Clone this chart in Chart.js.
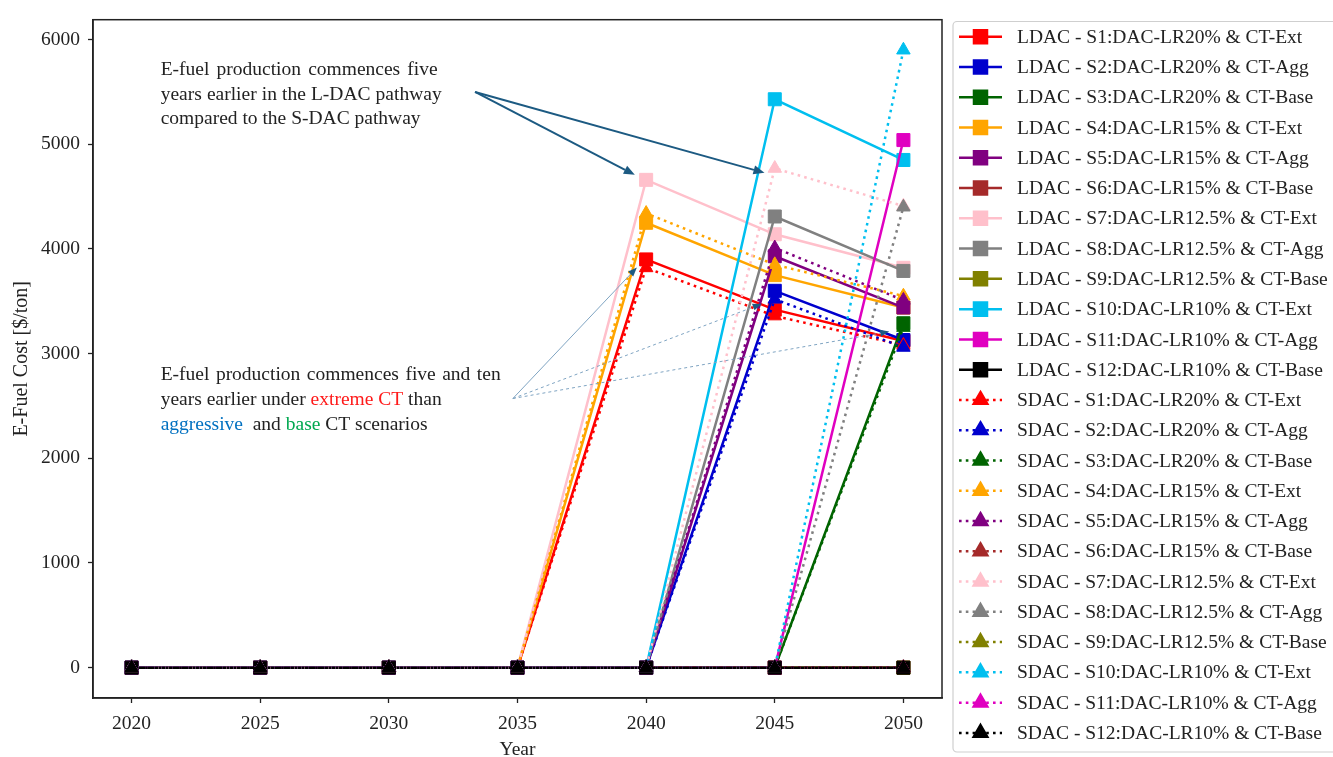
<!DOCTYPE html>
<html>
<head>
<meta charset="utf-8">
<script src="https://cdn.jsdelivr.net/npm/chart.js@4.4.1/dist/chart.umd.min.js"></script>
<style>
  html, body { margin: 0; padding: 0; background: #ffffff; overflow: hidden; }
  #wrap { width: 1333px; height: 757px; position: relative; }
</style>
</head>
<body>
<div id="wrap"><canvas id="c" width="1333" height="757"></canvas></div>
<script>
// ---- data ---------------------------------------------------------------
const years = [2020, 2025, 2030, 2035, 2040, 2045, 2050];
const yTickValues = [0, 1000, 2000, 3000, 4000, 5000, 6000];

const scenarioNames = [
  'S1:DAC-LR20% & CT-Ext', 'S2:DAC-LR20% & CT-Agg', 'S3:DAC-LR20% & CT-Base',
  'S4:DAC-LR15% & CT-Ext', 'S5:DAC-LR15% & CT-Agg', 'S6:DAC-LR15% & CT-Base',
  'S7:DAC-LR12.5% & CT-Ext', 'S8:DAC-LR12.5% & CT-Agg', 'S9:DAC-LR12.5% & CT-Base',
  'S10:DAC-LR10% & CT-Ext', 'S11:DAC-LR10% & CT-Agg', 'S12:DAC-LR10% & CT-Base'
];
const scenarioColors = [
  '#ff0000', '#0000cd', '#006400', '#ffa500', '#800080', '#a52a2a',
  '#ffc0cb', '#808080', '#808000', '#00bfef', '#e000c0', '#000000'
];

// E-fuel cost, L-DAC pathway [$/ton]
const ldacS1  = [0, 0, 0, 0, 3900, 3420, 3120];
const ldacS2  = [0, 0, 0, 0, 0, 3600, 3130];
const ldacS3  = [0, 0, 0, 0, 0, 0, 3290];
const ldacS4  = [0, 0, 0, 0, 4250, 3750, 3440];
const ldacS5  = [0, 0, 0, 0, 0, 3930, 3440];
const ldacS6  = [0, 0, 0, 0, 0, 0, 0];
const ldacS7  = [0, 0, 0, 0, 4660, 4140, 3820];
const ldacS8  = [0, 0, 0, 0, 0, 4310, 3790];
const ldacS9  = [0, 0, 0, 0, 0, 0, 0];
const ldacS10 = [0, 0, 0, 0, 0, 5430, 4850];
const ldacS11 = [0, 0, 0, 0, 0, 0, 5040];
const ldacS12 = [0, 0, 0, 0, 0, 0, 0];

// E-fuel cost, S-DAC pathway [$/ton]
const sdacS1  = [0, 0, 0, 0, 3820, 3360, 3080];
const sdacS2  = [0, 0, 0, 0, 0, 3520, 3060];
const sdacS3  = [0, 0, 0, 0, 0, 0, 3250];
const sdacS4  = [0, 0, 0, 0, 4340, 3850, 3550];
const sdacS5  = [0, 0, 0, 0, 0, 4010, 3510];
const sdacS6  = [0, 0, 0, 0, 0, 0, 0];
const sdacS7  = [0, 0, 0, 0, 0, 4770, 4410];
const sdacS8  = [0, 0, 0, 0, 0, 0, 4400];
const sdacS9  = [0, 0, 0, 0, 0, 0, 0];
const sdacS10 = [0, 0, 0, 0, 0, 0, 5900];
const sdacS11 = [0, 0, 0, 0, 0, 0, 0];
const sdacS12 = [0, 0, 0, 0, 0, 0, 0];

const ldacSeries = [ldacS1, ldacS2, ldacS3, ldacS4, ldacS5, ldacS6, ldacS7, ldacS8, ldacS9, ldacS10, ldacS11, ldacS12];
const sdacSeries = [sdacS1, sdacS2, sdacS3, sdacS4, sdacS5, sdacS6, sdacS7, sdacS8, sdacS9, sdacS10, sdacS11, sdacS12];

// ---- styling --------------------------------------------------------------
const SERIF = "'Liberation Serif', 'Times New Roman', Times, serif";
const TEXT = '#222222';
const DOT = [2.6, 4.2];
const LINE_W = 2.5;
const RECT_R = 9.2;
const TRI_R = 7.8;

function makeDataset(prefix, idx, values, solid) {
  const color = scenarioColors[idx];
  return {
    label: prefix + ' - ' + scenarioNames[idx],
    data: years.map((x, i) => ({ x: x, y: values[i] })),
    borderColor: color,
    backgroundColor: color,
    borderWidth: LINE_W,
    borderDash: solid ? [] : DOT,
    pointStyle: solid ? 'rect' : 'triangle',
    pointRadius: solid ? RECT_R : TRI_R,
    pointHoverRadius: solid ? RECT_R : TRI_R,
    pointBorderWidth: 1,
    pointBorderColor: color,
    pointBackgroundColor: color,
    tension: 0,
    fill: false
  };
}

const datasets = [];
ldacSeries.forEach((v, i) => datasets.push(makeDataset('LDAC', i, v, true)));
sdacSeries.forEach((v, i) => datasets.push(makeDataset('SDAC', i, v, false)));
// later series are painted over earlier ones
datasets.forEach((d, i) => { d.order = datasets.length - 1 - i; });

// ---- annotation helpers ---------------------------------------------------
function drawArrow(ctx, x1, y1, x2, y2, o) {
  const ang = Math.atan2(y2 - y1, x2 - x1);
  const hl = o.headLen, hw = o.headWidth / 2;
  const bx = x2 - Math.cos(ang) * hl, by = y2 - Math.sin(ang) * hl;
  ctx.save();
  ctx.strokeStyle = o.color;
  ctx.lineWidth = o.width;
  ctx.setLineDash(o.dash || []);
  ctx.beginPath();
  ctx.moveTo(x1, y1);
  ctx.lineTo(bx, by);
  ctx.stroke();
  ctx.setLineDash([]);
  ctx.fillStyle = o.headColor || o.color;
  ctx.beginPath();
  ctx.moveTo(x2, y2);
  ctx.lineTo(bx - Math.sin(ang) * hw, by + Math.cos(ang) * hw);
  ctx.lineTo(bx + Math.sin(ang) * hw, by - Math.cos(ang) * hw);
  ctx.closePath();
  ctx.fill();
  ctx.restore();
}

function drawJustified(ctx, text, x, y, width) {
  const words = text.split(' ');
  const total = words.reduce((s, w) => s + ctx.measureText(w).width, 0);
  const gap = (width - total) / (words.length - 1);
  let cx = x;
  words.forEach(w => { ctx.fillText(w, cx, y); cx += ctx.measureText(w).width + gap; });
}

function drawRuns(ctx, runs, x, y) {
  let cx = x;
  runs.forEach(([t, c]) => { ctx.fillStyle = c; ctx.fillText(t, cx, y); cx += ctx.measureText(t).width; });
}

const notePlugin = {
  id: 'notes',
  afterDraw(chart) {
    const ctx = chart.ctx;
    const xs = chart.scales.x, ys = chart.scales.y;
    const ca = chart.chartArea;
    const px = v => xs.getPixelForValue(v);
    const py = v => ys.getPixelForValue(v);

    // axes frame
    ctx.save();
    ctx.strokeStyle = TEXT;
    ctx.lineWidth = 1.5;
    ctx.strokeRect(ca.left, ca.top, ca.right - ca.left, ca.bottom - ca.top);
    ctx.restore();

    // axis titles
    ctx.save();
    ctx.fillStyle = TEXT;
    ctx.font = '19.5px ' + SERIF;
    ctx.textAlign = 'center';
    ctx.textBaseline = 'alphabetic';
    ctx.fillText('Year', (ca.left + ca.right) / 2, 755);
    ctx.translate(27, (ca.top + ca.bottom) / 2);
    ctx.rotate(-Math.PI / 2);
    ctx.font = '20px ' + SERIF;
    ctx.fillText('E-Fuel Cost [$/ton]', 0, 0);
    ctx.restore();

    // annotation: L-DAC vs S-DAC start
    ctx.save();
    ctx.font = '19.5px ' + SERIF;
    ctx.fillStyle = TEXT;
    ctx.textBaseline = 'alphabetic';
    const tx = px(2021.13);
    const t1 = py(5660);
    drawJustified(ctx, 'E-fuel production commences five', tx, t1, 277);
    drawJustified(ctx, 'years earlier in the L-DAC pathway', tx, t1 + 24.5, 281);
    ctx.fillText('compared to the S-DAC pathway', tx, t1 + 49);

    const dark = '#1c5a82';
    drawArrow(ctx, px(2033.35), py(5500), px(2039.56), py(4708), { color: dark, width: 2, headLen: 11, headWidth: 9 });
    drawArrow(ctx, px(2033.35), py(5500), px(2044.6), py(4727), { color: dark, width: 2, headLen: 11, headWidth: 9 });

    // annotation: carbon tax scenarios
    const t2 = py(2745);
    ctx.fillStyle = TEXT;
    drawJustified(ctx, 'E-fuel production commences five and ten', tx, t2, 340);
    drawRuns(ctx, [['years earlier under ', TEXT], ['extreme CT', '#ff1a1a'], [' than', TEXT]], tx, t2 + 25);
    drawRuns(ctx, [['aggressive', '#0070c0'], ['  and ', TEXT], ['base', '#00a850'], [' CT scenarios', TEXT]], tx, t2 + 50);

    const light = '#7fa4c2';
    const sx = px(2034.82), sy = py(2571);
    drawArrow(ctx, sx, sy, px(2039.64), py(3823), { color: light, width: 1, headLen: 9, headWidth: 7, headColor: dark });
    drawArrow(ctx, sx, sy, px(2044.49), py(3475), { color: light, width: 1, dash: [3, 3], headLen: 9, headWidth: 7, headColor: dark });
    drawArrow(ctx, sx, sy, px(2049.45), py(3211), { color: light, width: 1, dash: [3, 3], headLen: 9, headWidth: 7, headColor: dark });
    ctx.restore();

    // legend
    ctx.save();
    const lx = 953, ly = 21.5, lw = 395, lh = 730.5;
    ctx.fillStyle = '#ffffff';
    ctx.strokeStyle = '#cfcfcf';
    ctx.lineWidth = 1.2;
    ctx.beginPath();
    ctx.roundRect(lx, ly, lw, lh, 4);
    ctx.fill();
    ctx.stroke();
    ctx.font = '19.5px ' + SERIF;
    ctx.textBaseline = 'middle';
    chart.data.datasets.forEach((d, i) => {
      const cy = 36.7 + i * 30.27;
      ctx.strokeStyle = d.borderColor;
      ctx.lineWidth = LINE_W;
      ctx.setLineDash(d.borderDash);
      ctx.beginPath();
      ctx.moveTo(959, cy);
      ctx.lineTo(1002, cy);
      ctx.stroke();
      ctx.setLineDash([]);
      ctx.fillStyle = d.borderColor;
      Chart.helpers.drawPoint(ctx, { pointStyle: d.pointStyle, radius: d.pointRadius, borderWidth: 1, rotation: 0 }, 980.5, cy);
      ctx.fill();
      ctx.fillStyle = TEXT;
      ctx.fillText(d.label, 1017, cy + 1);
    });
    ctx.restore();
  }
};

const tickFont = { family: SERIF, size: 19.5 };

new Chart(document.getElementById('c'), {
  type: 'line',
  data: { datasets: datasets },
  plugins: [notePlugin],
  options: {
    responsive: false,
    animation: false,
    devicePixelRatio: 1,
    layout: { padding: { left: 0, right: 391, top: 12, bottom: 0 } },
    plugins: { legend: { display: false }, tooltip: { enabled: false } },
    scales: {
      x: {
        type: 'linear',
        min: 2018.5,
        max: 2051.5,
        afterBuildTicks: s => { s.ticks = years.map(v => ({ value: v })); },
        afterFit: s => { s.height = 59; },
        ticks: { font: tickFont, color: TEXT, padding: 9, maxRotation: 0, autoSkip: false, callback: v => String(v) },
        grid: { display: true, drawOnChartArea: false, drawTicks: true, tickLength: 5, tickColor: TEXT, tickWidth: 1.3 },
        border: { display: true, color: TEXT, width: 1.5 }
      },
      y: {
        type: 'linear',
        min: -290,
        max: 6190,
        afterBuildTicks: s => { s.ticks = yTickValues.map(v => ({ value: v })); },
        afterFit: s => { s.width = 93; },
        ticks: { font: tickFont, color: TEXT, padding: 8, autoSkip: false, callback: v => String(v) },
        grid: { display: true, drawOnChartArea: false, drawTicks: true, tickLength: 5, tickColor: TEXT, tickWidth: 1.3 },
        border: { display: true, color: TEXT, width: 1.5 }
      }
    }
  }
});
</script>
</body>
</html>
